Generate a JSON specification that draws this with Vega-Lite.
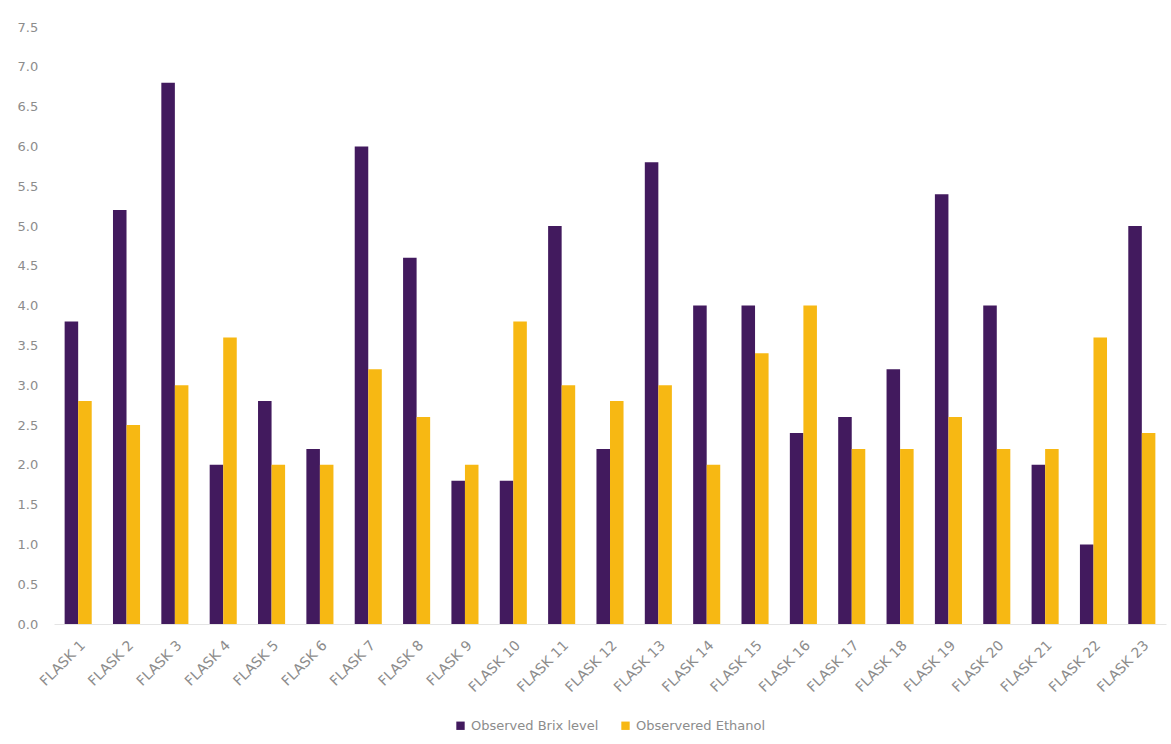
{
  "$schema": "https://vega.github.io/schema/vega-lite/v6.json",
  "width": 1112,
  "height": 597,
  "autosize": {"type": "none"},
  "padding": {"left": 54, "top": 27, "right": 5, "bottom": 120},
  "background": "white",
  "data": {
    "values": [
      {"flask": "FLASK 1", "series": "Observed Brix level", "value": 3.8},
      {"flask": "FLASK 1", "series": "Observered Ethanol", "value": 2.8},
      {"flask": "FLASK 2", "series": "Observed Brix level", "value": 5.2},
      {"flask": "FLASK 2", "series": "Observered Ethanol", "value": 2.5},
      {"flask": "FLASK 3", "series": "Observed Brix level", "value": 6.8},
      {"flask": "FLASK 3", "series": "Observered Ethanol", "value": 3.0},
      {"flask": "FLASK 4", "series": "Observed Brix level", "value": 2.0},
      {"flask": "FLASK 4", "series": "Observered Ethanol", "value": 3.6},
      {"flask": "FLASK 5", "series": "Observed Brix level", "value": 2.8},
      {"flask": "FLASK 5", "series": "Observered Ethanol", "value": 2.0},
      {"flask": "FLASK 6", "series": "Observed Brix level", "value": 2.2},
      {"flask": "FLASK 6", "series": "Observered Ethanol", "value": 2.0},
      {"flask": "FLASK 7", "series": "Observed Brix level", "value": 6.0},
      {"flask": "FLASK 7", "series": "Observered Ethanol", "value": 3.2},
      {"flask": "FLASK 8", "series": "Observed Brix level", "value": 4.6},
      {"flask": "FLASK 8", "series": "Observered Ethanol", "value": 2.6},
      {"flask": "FLASK 9", "series": "Observed Brix level", "value": 1.8},
      {"flask": "FLASK 9", "series": "Observered Ethanol", "value": 2.0},
      {"flask": "FLASK 10", "series": "Observed Brix level", "value": 1.8},
      {"flask": "FLASK 10", "series": "Observered Ethanol", "value": 3.8},
      {"flask": "FLASK 11", "series": "Observed Brix level", "value": 5.0},
      {"flask": "FLASK 11", "series": "Observered Ethanol", "value": 3.0},
      {"flask": "FLASK 12", "series": "Observed Brix level", "value": 2.2},
      {"flask": "FLASK 12", "series": "Observered Ethanol", "value": 2.8},
      {"flask": "FLASK 13", "series": "Observed Brix level", "value": 5.8},
      {"flask": "FLASK 13", "series": "Observered Ethanol", "value": 3.0},
      {"flask": "FLASK 14", "series": "Observed Brix level", "value": 4.0},
      {"flask": "FLASK 14", "series": "Observered Ethanol", "value": 2.0},
      {"flask": "FLASK 15", "series": "Observed Brix level", "value": 4.0},
      {"flask": "FLASK 15", "series": "Observered Ethanol", "value": 3.4},
      {"flask": "FLASK 16", "series": "Observed Brix level", "value": 2.4},
      {"flask": "FLASK 16", "series": "Observered Ethanol", "value": 4.0},
      {"flask": "FLASK 17", "series": "Observed Brix level", "value": 2.6},
      {"flask": "FLASK 17", "series": "Observered Ethanol", "value": 2.2},
      {"flask": "FLASK 18", "series": "Observed Brix level", "value": 3.2},
      {"flask": "FLASK 18", "series": "Observered Ethanol", "value": 2.2},
      {"flask": "FLASK 19", "series": "Observed Brix level", "value": 5.4},
      {"flask": "FLASK 19", "series": "Observered Ethanol", "value": 2.6},
      {"flask": "FLASK 20", "series": "Observed Brix level", "value": 4.0},
      {"flask": "FLASK 20", "series": "Observered Ethanol", "value": 2.2},
      {"flask": "FLASK 21", "series": "Observed Brix level", "value": 2.0},
      {"flask": "FLASK 21", "series": "Observered Ethanol", "value": 2.2},
      {"flask": "FLASK 22", "series": "Observed Brix level", "value": 1.0},
      {"flask": "FLASK 22", "series": "Observered Ethanol", "value": 3.6},
      {"flask": "FLASK 23", "series": "Observed Brix level", "value": 5.0},
      {"flask": "FLASK 23", "series": "Observered Ethanol", "value": 2.4}
    ]
  },
  "mark": {"type": "bar"},
  "encoding": {
    "x": {
      "field": "flask",
      "type": "nominal",
      "sort": null,
      "scale": {"paddingInner": 0.44, "paddingOuter": 0.22},
      "axis": {
        "title": null,
        "labelAngle": -45,
        "labelFont": "DejaVu Sans",
        "labelFontSize": 14,
        "labelColor": "#8c8c8c",
        "labelPadding": 14,
        "ticks": false,
        "domainColor": "#e4e4e4",
        "domainWidth": 1
      }
    },
    "xOffset": {"field": "series", "type": "nominal"},
    "y": {
      "field": "value",
      "type": "quantitative",
      "scale": {"domain": [0, 7.5], "nice": false},
      "axis": {
        "title": null,
        "values": [0, 0.5, 1, 1.5, 2, 2.5, 3, 3.5, 4, 4.5, 5, 5.5, 6, 6.5, 7, 7.5],
        "format": ".1f",
        "grid": false,
        "domain": false,
        "ticks": false,
        "labelAlign": "left",
        "labelPadding": 37,
        "labelFont": "DejaVu Sans",
        "labelFontSize": 13,
        "labelColor": "#8c8c8c"
      }
    },
    "color": {
      "field": "series",
      "type": "nominal",
      "scale": {
        "domain": ["Observed Brix level", "Observered Ethanol"],
        "range": ["#421a5e", "#f7b813"]
      },
      "legend": {
        "title": null,
        "orient": "bottom",
        "direction": "horizontal",
        "symbolType": "square",
        "symbolSize": 70,
        "labelFont": "DejaVu Sans",
        "labelFontSize": 13,
        "labelColor": "#8c8c8c",
        "columnPadding": 20,
        "offset": 24
      }
    }
  },
  "config": {
    "view": {"stroke": null},
    "legend": {"layout": {"bottom": {"anchor": "middle"}}}
  }
}
